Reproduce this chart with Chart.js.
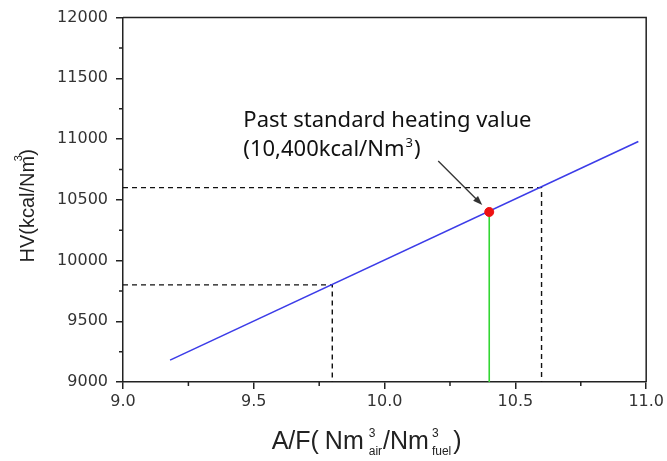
<!DOCTYPE html>
<html>
<head>
<meta charset="utf-8">
<script src="https://cdn.jsdelivr.net/npm/chart.js@4/dist/chart.umd.min.js"></script>
<style>
  html, body { margin: 0; padding: 0; background: #fff; }
  #wrap { width: 667px; height: 461px; }
</style>
</head>
<body>
<div id="wrap"><canvas id="hvChart" width="667" height="461"></canvas></div>
<script>
// HV vs A/F line, end points
const lineAF = [9.18, 10.97];
const lineHV = [9180, 10980];

// dashed guide lines (lower and upper)
const guideAF = [9.8, 10.6];
const guideHV = [9800, 10600];

// past standard heating value
const pastAF = [10.4];
const pastHV = [10400];

// axes
const xTicks = [9.0, 9.5, 10.0, 10.5, 11.0];
const yTicks = [9000, 9500, 10000, 10500, 11000, 11500, 12000];
const xMinor = [9.25, 9.75, 10.25, 10.75];
const yMinor = [9250, 9750, 10250, 10750, 11250, 11750];

const noteLine1 = 'Past standard heating value';
const noteLine2 = '(10,400kcal/Nm';

const SANS = '"Liberation Sans", Arial, sans-serif';
const NOTE_FONT = '"Noto Sans", "Open Sans", sans-serif';
const INK = '#222';

function pts(xs, ys) {
    return xs.map((v, i) => ({ x: v, y: ys[i] }));
}

// build the L-shaped dashed guide for one reference value
function guide(i) {
    return [
        { x: xTicks[0], y: guideHV[i] },
        { x: guideAF[i], y: guideHV[i] },
        { x: guideAF[i], y: yTicks[0] }
    ];
}

// text with stacked super/subscripts, centred on cx
function segWidth(ctx, s) {
    ctx.font = s.size + 'px ' + SANS;
    if (s.t !== undefined) return ctx.measureText(s.t).width;
    return Math.max(ctx.measureText(s.sup || '').width, ctx.measureText(s.sub || '').width);
}

function drawRich(ctx, segs, cx, base) {
    const total = segs.reduce((w, s) => w + segWidth(ctx, s) + (s.pad || 0), 0);
    let xp = cx - total / 2;
    ctx.textAlign = 'left';
    ctx.textBaseline = 'alphabetic';
    segs.forEach(s => {
        const w = segWidth(ctx, s);
        ctx.font = s.size + 'px ' + SANS;
        if (s.t !== undefined) {
            ctx.fillText(s.t, xp, base);
        } else {
            if (s.sup) ctx.fillText(s.sup, xp, base - 12);
            if (s.sub) ctx.fillText(s.sub, xp, base + 6);
        }
        xp += w + (s.pad || 0);
    });
}

const extras = {
    id: 'extras',
    afterDraw(chart) {
        const { ctx, chartArea: a, scales: { x, y } } = chart;
        ctx.save();

        // top and right frame
        ctx.strokeStyle = INK;
        ctx.lineWidth = 1.5;
        ctx.beginPath();
        ctx.moveTo(a.left, a.top);
        ctx.lineTo(a.right, a.top);
        ctx.lineTo(a.right, a.bottom);
        ctx.stroke();

        // minor ticks, outward
        ctx.beginPath();
        xMinor.forEach(v => {
            const px = x.getPixelForValue(v);
            ctx.moveTo(px, a.bottom);
            ctx.lineTo(px, a.bottom + 4);
        });
        yMinor.forEach(v => {
            const py = y.getPixelForValue(v);
            ctx.moveTo(a.left, py);
            ctx.lineTo(a.left - 4, py);
        });
        ctx.stroke();

        ctx.fillStyle = INK;

        // x title
        drawRich(ctx, [
            { t: 'A/F(', size: 25, pad: 6 },
            { t: 'Nm', size: 25, pad: 5 },
            { sup: '3', sub: 'air', size: 12, pad: 1 },
            { t: '/Nm', size: 25, pad: 3 },
            { sup: '3', sub: 'fuel', size: 12, pad: 2 },
            { t: ')', size: 25 }
        ], (a.left + a.right) / 2 - 18, 449);

        // y title, rotated
        ctx.save();
        ctx.translate(28, (a.top + a.bottom) / 2 + 6);
        ctx.rotate(-Math.PI / 2);
        ctx.font = '20px ' + SANS;
        ctx.textAlign = 'center';
        ctx.textBaseline = 'middle';
        const yt = 'HV(kcal/Nm)';
        const yw = ctx.measureText(yt).width;
        ctx.fillText(yt, 0, 0);
        ctx.font = '11px ' + SANS;
        ctx.textAlign = 'left';
        ctx.fillText('3', yw / 2 - 12, -9);
        ctx.restore();

        // annotation
        const px = x.getPixelForValue(pastAF[0]);
        const py = y.getPixelForValue(pastHV[0]);
        const tx = x.getPixelForValue(9.46);
        const ty = y.getPixelForValue(11100);
        ctx.font = '22px ' + NOTE_FONT;
        ctx.textAlign = 'left';
        ctx.textBaseline = 'alphabetic';
        ctx.fillStyle = '#111';
        ctx.fillText(noteLine1, tx, ty);
        ctx.fillText(noteLine2, tx, ty + 29);
        const w2 = ctx.measureText(noteLine2).width;
        ctx.font = '13px ' + NOTE_FONT;
        ctx.fillText('3', tx + w2 + 1, ty + 20);
        const w3 = ctx.measureText('3').width;
        ctx.font = '22px ' + NOTE_FONT;
        ctx.fillText(')', tx + w2 + w3 + 2, ty + 29);

        // arrow to the point
        const hx = px - 7, hy = py - 7;
        const sx = hx - 44, sy = hy - 44;
        ctx.strokeStyle = '#333';
        ctx.fillStyle = '#333';
        ctx.lineWidth = 1.3;
        ctx.beginPath();
        ctx.moveTo(sx, sy);
        ctx.lineTo(hx - 4, hy - 4);
        ctx.stroke();
        const ang = Math.atan2(hy - sy, hx - sx);
        ctx.beginPath();
        ctx.moveTo(hx, hy);
        ctx.lineTo(hx - 10 * Math.cos(ang - 0.35), hy - 10 * Math.sin(ang - 0.35));
        ctx.lineTo(hx - 10 * Math.cos(ang + 0.35), hy - 10 * Math.sin(ang + 0.35));
        ctx.closePath();
        ctx.fill();

        ctx.restore();
    }
};

const lineStyle = { showLine: true, pointRadius: 0, fill: false, tension: 0 };

const chart = new Chart(document.getElementById('hvChart').getContext('2d'), {
    type: 'scatter',
    data: {
        datasets: [
            { ...lineStyle, order: 0, data: pts(pastAF, pastHV), showLine: false,
              pointRadius: 4.5, pointBackgroundColor: '#ee1111', pointBorderColor: '#ee1111' },
            { ...lineStyle, order: 1, data: pts(lineAF, lineHV), borderColor: '#3c3ce8', borderWidth: 1.6 },
            { ...lineStyle, order: 2, data: [{ x: pastAF[0], y: yTicks[0] }, { x: pastAF[0], y: pastHV[0] }],
              borderColor: '#33d633', borderWidth: 1.6 },
            { ...lineStyle, order: 3, data: guide(0), borderColor: '#111', borderWidth: 1.4, borderDash: [5, 4] },
            { ...lineStyle, order: 3, data: guide(1), borderColor: '#111', borderWidth: 1.4, borderDash: [5, 4] }
        ]
    },
    options: {
        responsive: false,
        animation: false,
        layout: { padding: { top: 17, right: 18, left: 0, bottom: 0 } },
        plugins: { legend: { display: false }, tooltip: { enabled: false } },
        scales: {
            x: {
                type: 'linear',
                min: 9,
                max: 11,
                afterBuildTicks: s => { s.ticks = xTicks.map(v => ({ value: v })); },
                afterFit: s => { s.height = 79; },
                ticks: {
                    callback: v => Number(v).toFixed(1),
                    font: { family: 'DejaVu Sans', size: 16 },
                    color: '#333',
                    padding: 3,
                    maxRotation: 0,
                    autoSkip: false
                },
                grid: { drawOnChartArea: false, drawTicks: true, tickLength: 7, color: INK, lineWidth: 1.5 },
                border: { color: INK, width: 1.5 }
            },
            y: {
                type: 'linear',
                min: 9000,
                max: 12000,
                afterBuildTicks: s => { s.ticks = yTicks.map(v => ({ value: v })); },
                afterFit: s => { s.width = 123; },
                ticks: {
                    callback: v => String(v),
                    font: { family: 'DejaVu Sans', size: 16 },
                    color: '#333',
                    padding: 8,
                    autoSkip: false
                },
                grid: { drawOnChartArea: false, drawTicks: true, tickLength: 7, color: INK, lineWidth: 1.5 },
                border: { color: INK, width: 1.5 }
            }
        }
    },
    plugins: [extras]
});
</script>
</body>
</html>
